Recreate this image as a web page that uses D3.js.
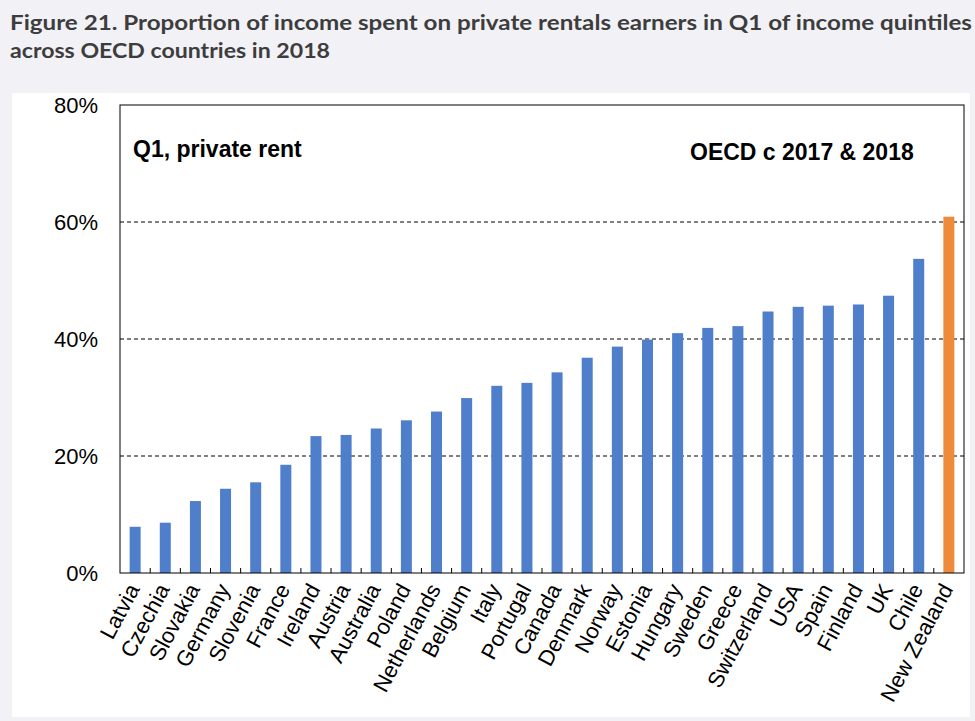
<!DOCTYPE html>
<html>
<head>
<meta charset="utf-8">
<script src="https://cdn.jsdelivr.net/npm/d3@7"></script>
<style>
  body { margin: 0; background: #f1f1f6; }
  svg { display: block; }
</style>
</head>
<body>
<svg></svg>
<script>
// Chart data
const countries = ["Latvia", "Czechia", "Slovakia", "Germany", "Slovenia", "France", "Ireland", "Austria",
  "Australia", "Poland", "Netherlands", "Belgium", "Italy", "Portugal", "Canada", "Denmark", "Norway",
  "Estonia", "Hungary", "Sweden", "Greece", "Switzerland", "USA", "Spain", "Finland", "UK", "Chile", "New Zealand"];
const shares = [0.079, 0.086, 0.123, 0.144, 0.155, 0.185, 0.234, 0.236,
  0.247, 0.261, 0.276, 0.299, 0.320, 0.325, 0.343, 0.368, 0.387,
  0.399, 0.410, 0.419, 0.422, 0.447, 0.455, 0.457, 0.459, 0.474, 0.537, 0.609];
const highlight = ["New Zealand"];
const yTicks = [0, 0.2, 0.4, 0.6, 0.8];

const width = 975, height = 721;
const margin = { top: 105, right: 11, bottom: 148, left: 120 };

const svg = d3.select("svg")
  .attr("width", width)
  .attr("height", height);

// Title
const title = svg.append("g")
  .attr("fill", "#3d3d3d")
  .attr("font-family", "Lato, 'Open Sans', sans-serif")
  .attr("font-weight", "bold")
  .attr("font-size", 20.5);
title.append("text").attr("x", 10).attr("y", 30)
  .attr("textLength", 962).attr("lengthAdjust", "spacingAndGlyphs")
  .text("Figure 21. Proportion of income spent on private rentals earners in Q1 of income quintiles");
title.append("text").attr("x", 10).attr("y", 58)
  .attr("textLength", 320).attr("lengthAdjust", "spacingAndGlyphs")
  .text("across OECD countries in 2018");

// White chart panel
svg.append("rect")
  .attr("x", 12).attr("y", 93)
  .attr("width", 958).attr("height", 624)
  .attr("fill", "#fff");

const x = d3.scaleBand()
  .domain(countries)
  .range([margin.left, width - margin.right])
  .paddingInner(0.635)
  .paddingOuter(0.32);

const y = d3.scaleLinear()
  .domain([0, 0.8])
  .range([height - margin.bottom, margin.top]);

// Dashed gridlines
svg.append("g")
  .selectAll("line")
  .data(yTicks.filter(d => d > 0 && d < 0.8))
  .enter()
  .append("line")
  .attr("x1", margin.left).attr("x2", width - margin.right)
  .attr("y1", d => y(d)).attr("y2", d => y(d))
  .attr("stroke", "#000")
  .attr("stroke-width", 1)
  .attr("stroke-dasharray", "4,3");

// Bars
svg.append("g")
  .selectAll("rect")
  .data(countries)
  .enter()
  .append("rect")
  .attr("x", d => x(d))
  .attr("width", x.bandwidth())
  .attr("y", (d, i) => y(shares[i]))
  .attr("height", (d, i) => y(0) - y(shares[i]))
  .attr("fill", d => highlight.includes(d) ? "#ed8b3a" : "#4f7ecb");

// Plot frame
svg.append("rect")
  .attr("x", margin.left).attr("y", margin.top)
  .attr("width", width - margin.right - margin.left)
  .attr("height", y(0) - margin.top)
  .attr("fill", "none")
  .attr("stroke", "#000")
  .attr("stroke-width", 1);

// Category tick marks between bars, pointing inward
const step = x.step();
svg.append("g")
  .selectAll("line")
  .data(countries.slice(1))
  .enter()
  .append("line")
  .attr("x1", d => x(d) - (step - x.bandwidth()) / 2)
  .attr("x2", d => x(d) - (step - x.bandwidth()) / 2)
  .attr("y1", y(0)).attr("y2", y(0) - 5)
  .attr("stroke", "#000");

// Y axis labels
const yAxis = svg.append("g")
  .attr("transform", `translate(${margin.left},0)`)
  .call(d3.axisLeft(y).tickValues(yTicks).tickFormat(d3.format(".0%")).tickSize(0).tickPadding(22));
yAxis.select(".domain").remove();
yAxis.selectAll("text")
  .attr("font-family", "'Liberation Sans', Arial, sans-serif")
  .attr("font-size", 22)
  .attr("fill", "#000");

// Rotated country labels
svg.append("g")
  .selectAll("text")
  .data(countries)
  .enter()
  .append("text")
  .attr("transform", d => `translate(${x(d) + x.bandwidth() / 2 + 5},${y(0) + 16}) rotate(-62)`)
  .attr("text-anchor", "end")
  .attr("font-family", "'Liberation Sans', Arial, sans-serif")
  .attr("font-size", 22)
  .attr("fill", "#000")
  .text(d => d);

// In-plot annotations
svg.append("text")
  .attr("x", 133).attr("y", 157)
  .attr("font-family", "'Liberation Sans', Arial, sans-serif")
  .attr("font-weight", "bold")
  .attr("font-size", 23)
  .text("Q1, private rent");
svg.append("text")
  .attr("x", 690).attr("y", 160)
  .attr("font-family", "'Liberation Sans', Arial, sans-serif")
  .attr("font-weight", "bold")
  .attr("font-size", 23)
  .text("OECD c 2017 & 2018");
</script>
</body>
</html>
